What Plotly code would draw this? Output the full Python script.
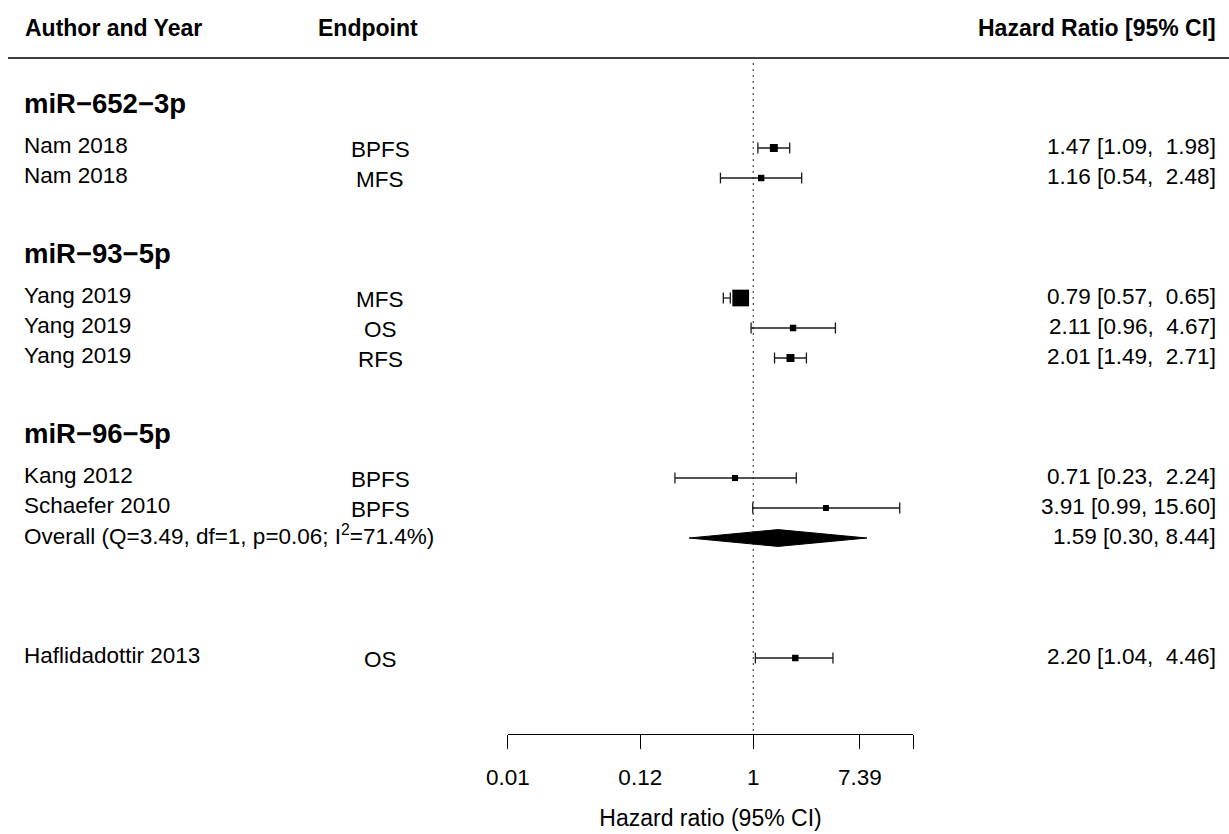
import math
import plotly.graph_objects as go

# ---------------- data ----------------
group_names = ["miR−652−3p", "miR−93−5p", "miR−96−5p"]
authors = ["Nam 2018", "Nam 2018", "Yang 2019", "Yang 2019", "Yang 2019",
           "Kang 2012", "Schaefer 2010", "Haflidadottir 2013"]
endpoints = ["BPFS", "MFS", "MFS", "OS", "RFS", "BPFS", "BPFS", "OS"]
hr = [1.47, 1.16, 0.79, 2.11, 2.01, 0.71, 3.91, 2.20]
ci_low = [1.09, 0.54, 0.57, 0.96, 1.49, 0.23, 0.99, 1.04]
ci_high = [1.98, 2.48, 0.65, 4.67, 2.71, 2.24, 15.60, 4.46]
overall_label = "Overall (Q=3.49, df=1, p=0.06; I<sup>2</sup>=71.4%)"
overall_hr = 1.59
overall_low = 0.30
overall_high = 8.44
tick_values = [0.01, 0.12, 1, 7.39]
tick_labels = ["0.01", "0.12", "1", "7.39"]
axis_end_value = 20.09          # unlabelled last tick
header_labels = ["Author and Year", "Endpoint", "Hazard Ratio [95% CI]"]
axis_title = "Hazard ratio (95% CI)"

# ---------------- layout (rows) ----------------
study_rows = [0, 1, 5, 6, 7, 11, 12, 17]
group_rows = [-1.5, 3.5, 9.5]
overall_row = 13
W, H = 1229, 834
PX_ROW = 30.0          # pixels per row
ROW0_PX = 148.0        # pixel y of row 0
AXIS_PX = 734.0        # pixel y of the x axis line
y_top = -ROW0_PX / PX_ROW
y_bot = (AXIS_PX - ROW0_PX) / PX_ROW


def px2row(p):
    return (p - ROW0_PX) / PX_ROW


FONT = "Liberation Sans, Arial, Helvetica, sans-serif"
BODY = 22.5
LINE_COL = "#1a1a1a"

ln = math.log
lx_min, lx_max = ln(tick_values[0]), ln(axis_end_value)
x0_px, x1_px = 507.8, 913.2

fig = go.Figure()

# dotted reference line at HR = 1
fig.add_trace(go.Scatter(
    x=[0, 0], y=[px2row(63), y_bot], mode="lines", xaxis="x2", yaxis="y",
    line=dict(color="#555555", width=1.3, dash="2px,4px"),
    hoverinfo="skip", showlegend=False))

# CI lines and caps
cx, cy = [], []
cap = 0.18
for r, lo, hi in zip(study_rows, ci_low, ci_high):
    a, b = ln(lo), ln(hi)
    cx += [a, b, None, a, a, None, b, b, None]
    cy += [r, r, None, r - cap, r + cap, None, r - cap, r + cap, None]
fig.add_trace(go.Scatter(x=cx, y=cy, mode="lines", xaxis="x2", yaxis="y",
                         line=dict(color=LINE_COL, width=1.3),
                         hoverinfo="skip", showlegend=False))

# squares sized by precision
w = [3.92 / (ln(hi) - ln(lo)) for lo, hi in zip(ci_low, ci_high)]
wmin, wmax = min(w), max(w)
sizes = [6 + 10.7 * (v - wmin) / (wmax - wmin) for v in w]
fig.add_trace(go.Scatter(
    x=[ln(v) for v in hr], y=study_rows, mode="markers", xaxis="x2", yaxis="y",
    marker=dict(symbol="square", size=sizes, color="#000000", opacity=1,
                line=dict(width=0)),
    hoverinfo="skip", showlegend=False))

# summary diamond
dh = 0.28
fig.add_trace(go.Scatter(
    x=[ln(overall_low), ln(overall_hr), ln(overall_high), ln(overall_hr), ln(overall_low)],
    y=[overall_row, overall_row - dh, overall_row, overall_row + dh, overall_row],
    mode="lines", fill="toself", fillcolor="black", xaxis="x2", yaxis="y",
    line=dict(color="black", width=1), hoverinfo="skip", showlegend=False))

# ---------------- text ----------------
ann = []


def add_text(x, y, text, size=BODY, anchor="left", bold=False):
    t = f"<b>{text}</b>" if bold else text
    ann.append(dict(x=x, y=y, xref="x", yref="y", text=t, showarrow=False,
                    xanchor=anchor, yanchor="middle",
                    font=dict(family=FONT, size=size, color="black")))


NB = "\u00a0"
# column headers
hdr_row = px2row(28)
add_text(23, hdr_row, header_labels[0], 23, "left", True)
add_text(316, hdr_row, header_labels[1], 23, "left", True)
add_text(1218, hdr_row, header_labels[2], 23, "right", True)

for g, r in zip(group_names, group_rows):
    add_text(22, r, g, 27.5, "left", True)

for a, e, v, lo, hi, r in zip(authors, endpoints, hr, ci_low, ci_high, study_rows):
    add_text(22, r - 0.1, a)
    add_text(380, r + 0.05, e, anchor="center")
    label = f"{v:.2f} [{lo:.2f}, {hi:>5.2f}]".replace(" ", NB)
    add_text(1218, r - 0.05, label, anchor="right")

add_text(22, overall_row - 0.1, overall_label)
add_text(1218, overall_row - 0.05,
         f"{overall_hr:.2f} [{overall_low:.2f}, {overall_high:.2f}]".replace(" ", NB),
         anchor="right")

# header rule
shapes = [dict(type="line", xref="x", yref="y", x0=8, x1=1229,
               y0=px2row(58), y1=px2row(58), line=dict(color="black", width=1.6))]

fig.update_layout(
    width=W, height=H, margin=dict(l=0, r=0, t=0, b=0),
    paper_bgcolor="white", plot_bgcolor="white",
    showlegend=False, annotations=ann, shapes=shapes,
    xaxis=dict(domain=[0, 1], range=[0, W], visible=False, anchor="y", fixedrange=True),
    xaxis2=dict(domain=[x0_px / W, x1_px / W], range=[lx_min, lx_max], anchor="y",
                showline=True, linecolor="black", linewidth=1.3,
                ticks="outside", ticklen=14, tickwidth=1.3, tickcolor="black",
                tickmode="array",
                tickvals=[ln(v) for v in tick_values], ticktext=tick_labels,
                minor=dict(tickmode="array", tickvals=[ln(axis_end_value)],
                           ticks="outside", ticklen=14, tickwidth=1.3,
                           tickcolor="black", showgrid=False),
                tickfont=dict(family=FONT, size=22.5, color="black"),
                ticklabelstandoff=9,
                showgrid=False, zeroline=False, automargin=False,
                title=dict(text=axis_title, standoff=20,
                           font=dict(family=FONT, size=23, color="black"))),
    yaxis=dict(domain=[(H - AXIS_PX) / H, 1], range=[y_bot, y_top], visible=False,
               fixedrange=True),
)

fig.write_html("out.html")
